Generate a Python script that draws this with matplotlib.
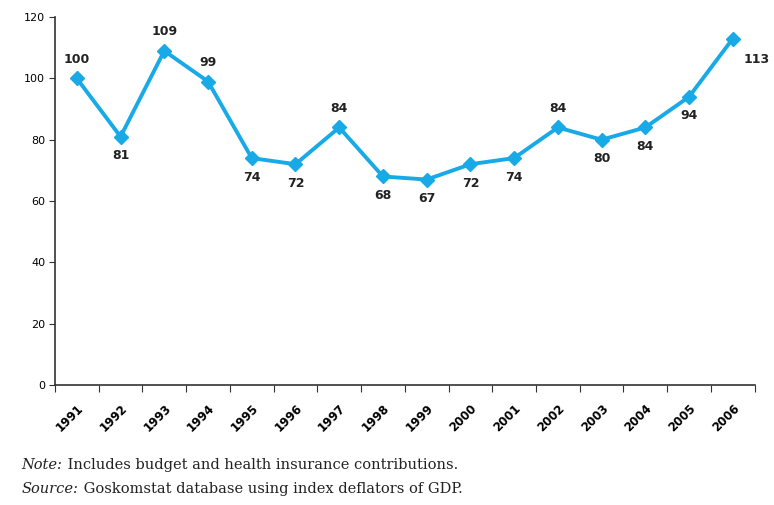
import matplotlib
matplotlib.use("Agg")
import matplotlib.pyplot as plt
import numpy as np

years = ["1991", "1992", "1993", "1994", "1995", "1996", "1997", "1998",
         "1999", "2000", "2001", "2002", "2003", "2004", "2005", "2006"]
values = [100, 81, 109, 99, 74, 72, 84, 68, 67, 72, 74, 84, 80, 84, 94, 113]
label_pos = ["above", "below", "above", "above", "below", "below", "above", "below",
             "below", "below", "below", "above", "below", "below", "below", "right"]
note_parts = [("Note:", " Includes budget and health insurance contributions."),
              ("Source:", " Goskomstat database using index deflators of GDP.")]

fig = plt.figure(figsize=(7.74, 5.05), dpi=100)
ax = fig.add_axes([0.071, 0.238, 0.904, 0.728])

x = np.arange(len(values))
color = "#18aae6"
ax.plot(x, values, color=color, lw=2.8, marker="D", ms=7, mec=color, mfc=color)

for xi, v, p in zip(x, values, label_pos):
    if p == "above":
        ax.annotate(str(v), (xi, v), xytext=(0, 9), textcoords="offset points",
                    ha="center", va="bottom", fontsize=9, fontweight="bold", color="#222222")
    elif p == "below":
        ax.annotate(str(v), (xi, v), xytext=(0, -9), textcoords="offset points",
                    ha="center", va="top", fontsize=9, fontweight="bold", color="#222222")
    else:
        ax.annotate(str(v), (xi, v), xytext=(8, -10), textcoords="offset points",
                    ha="left", va="top", fontsize=9, fontweight="bold", color="#222222")

ax.set_xlim(-0.5, len(values) - 0.5)
ax.set_ylim(0, 120)
ax.set_yticks([0, 20, 40, 60, 80, 100, 120])
ax.tick_params(axis="y", labelsize=8, length=4, color="#333333", pad=3)
ax.set_xticks(np.arange(-0.5, len(values), 1.0))
ax.set_xticklabels([])
ax.set_xticks(x, minor=True)
ax.set_xticklabels(years, minor=True, rotation=45, ha="right", rotation_mode="anchor",
                   fontsize=8.5, fontweight="bold")
ax.tick_params(axis="x", which="minor", length=0, pad=12)
ax.tick_params(axis="x", which="major", length=5, color="#333333")
for s in ["top", "right"]:
    ax.spines[s].set_visible(False)
for s in ["left", "bottom"]:
    ax.spines[s].set_color("#333333")
    ax.spines[s].set_linewidth(1.2)

fig.canvas.draw()
renderer = fig.canvas.get_renderer()
ys = [0.079, 0.031]
for (lead, rest), yy in zip(note_parts, ys):
    t = fig.text(0.028, yy, lead, fontsize=10.5, style="italic", color="#222222",
                 ha="left", va="center", family="DejaVu Serif")
    bb = t.get_window_extent(renderer=renderer)
    x1 = bb.x1 / fig.bbox.width
    fig.text(x1, yy, rest, fontsize=10.5, color="#222222", ha="left", va="center",
             family="DejaVu Serif")

fig.savefig("out.png", dpi=100)
